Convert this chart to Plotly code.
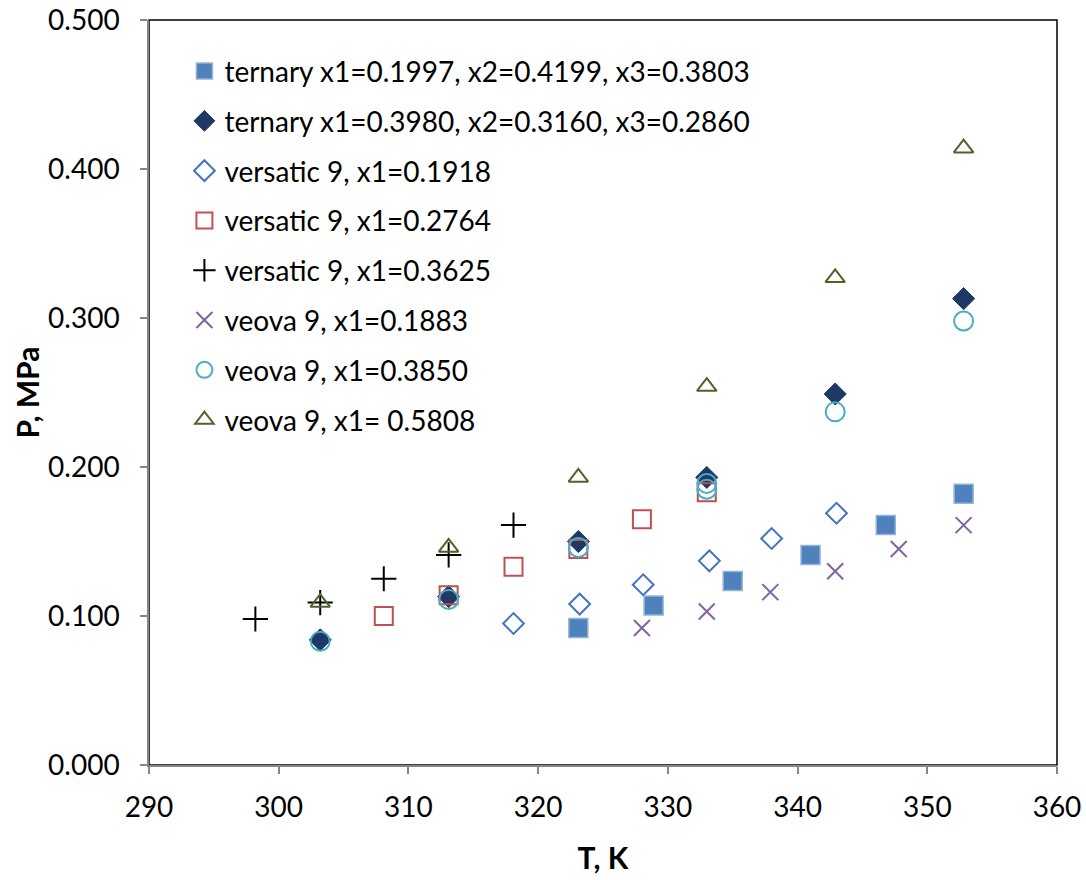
import plotly.graph_objects as go

# ---- data ----
names = [
    "ternary x1=0.1997, x2=0.4199, x3=0.3803",
    "ternary x1=0.3980, x2=0.3160, x3=0.2860",
    "versatic 9, x1=0.1918",
    "versatic 9, x1=0.2764",
    "versatic 9, x1=0.3625",
    "veova 9, x1=0.1883",
    "veova 9, x1=0.3850",
    "veova 9, x1= 0.5808",
]

t_tern1 = [323.1, 328.9, 335.0, 341.0, 346.8, 352.8]
p_tern1 = [0.092, 0.107, 0.1235, 0.141, 0.161, 0.182]

t_tern2 = [303.2, 313.1, 323.1, 333.0, 342.9, 352.8]
p_tern2 = [0.084, 0.113, 0.150, 0.193, 0.249, 0.313]

t_vers1 = [318.1, 323.2, 328.1, 333.2, 338.0, 343.0]
p_vers1 = [0.095, 0.108, 0.121, 0.137, 0.152, 0.169]

t_vers2 = [308.1, 313.1, 318.1, 323.1, 328.0, 333.0]
p_vers2 = [0.100, 0.114, 0.133, 0.145, 0.165, 0.183]

t_vers3 = [298.2, 303.2, 308.1, 313.1, 318.1]
p_vers3 = [0.098, 0.109, 0.125, 0.141, 0.161]

t_veova1 = [328.0, 333.0, 337.9, 342.9, 347.8, 352.8]
p_veova1 = [0.092, 0.103, 0.116, 0.130, 0.145, 0.161]

t_veova2 = [303.2, 313.1, 323.1, 333.0, 333.0, 342.9, 352.8]
p_veova2 = [0.083, 0.111, 0.146, 0.189, 0.185, 0.237, 0.298]

t_veova3 = [303.2, 313.1, 323.1, 333.0, 342.9, 352.8]
p_veova3 = [0.109, 0.146, 0.193, 0.254, 0.327, 0.414]

x_ticks = [290, 300, 310, 320, 330, 340, 350, 360]
y_ticks = [0.0, 0.1, 0.2, 0.3, 0.4, 0.5]

FONT = "Lato"
TICK_SIZE = 28
TITLE_SIZE = 30

series = [
    (t_tern1, p_tern1, dict(symbol="square", size=19, color="#4F81BD",
                            line=dict(color="#95B3D7", width=1.5))),
    (t_tern2, p_tern2, dict(symbol="diamond", size=17, color="#1F3864",
                            line=dict(color="#1F3864", width=1))),
    (t_vers1, p_vers1, dict(symbol="diamond-open", size=16, color="#4472C4",
                            line=dict(color="#4472C4", width=2))),
    (t_vers2, p_vers2, dict(symbol="square-open", size=18, color="#C0504D",
                            line=dict(color="#C0504D", width=2))),
    (t_vers3, p_vers3, dict(symbol="cross-thin", size=18, color="black",
                            line=dict(color="black", width=2))),
    (t_veova1, p_veova1, dict(symbol="x-thin", size=16, color="#8064A2",
                              line=dict(color="#8064A2", width=2))),
    (t_veova2, p_veova2, dict(symbol="circle-open", size=19, color="#4BACC6",
                              line=dict(color="#4BACC6", width=2))),
    (t_veova3, p_veova3, dict(symbol="triangle-up-open", size=17, color="#4F6228",
                              line=dict(color="#4F6228", width=2))),
]

fig = go.Figure()
for i, (xs, ys, mk) in enumerate(series):
    fig.add_trace(go.Scatter(x=xs, y=ys, mode="markers", name=names[i],
                             marker=mk, legendgroup=f"g{i}"))

fig.add_shape(type="rect", xref="paper", yref="paper", x0=0, y0=0, x1=1, y1=1,
              line=dict(color="black", width=1.5), layer="below")

fig.update_layout(
    width=1086, height=880,
    margin=dict(l=149, r=29, t=20, b=115, autoexpand=False),
    paper_bgcolor="white", plot_bgcolor="white",
    font=dict(family=FONT, size=TICK_SIZE, color="black"),
    showlegend=True,
    legend=dict(x=0.039, y=0.9646, xanchor="left", yanchor="top",
                traceorder="grouped", tracegroupgap=10.4,
                bgcolor="rgba(0,0,0,0)", font=dict(family=FONT, size=TICK_SIZE)),
    xaxis=dict(range=[290, 360], tickvals=x_ticks, ticks="outside", ticklen=7,
               tickcolor="#868686", tickwidth=1.5, showline=True, automargin=False,
               ticklabelstandoff=10,
               linecolor="#868686", linewidth=1.5, showgrid=False, zeroline=False,
               tickfont=dict(family=FONT, size=TICK_SIZE),
               title=dict(text="<b>T, K</b>", font=dict(family=FONT, size=TITLE_SIZE),
                          standoff=26)),
    yaxis=dict(range=[0, 0.5], tickvals=y_ticks, tickformat=".3f", ticks="outside",
               ticklen=7, tickcolor="#868686", tickwidth=1.5, showline=True,
               automargin=False, ticklabelstandoff=15,
               linecolor="#868686", linewidth=1.5, showgrid=False, zeroline=False,
               tickfont=dict(family=FONT, size=TICK_SIZE),
               title=dict(text="<b>P, MPa</b>", font=dict(family=FONT, size=TITLE_SIZE),
                          standoff=0)),
)

fig.write_html("out.html")
